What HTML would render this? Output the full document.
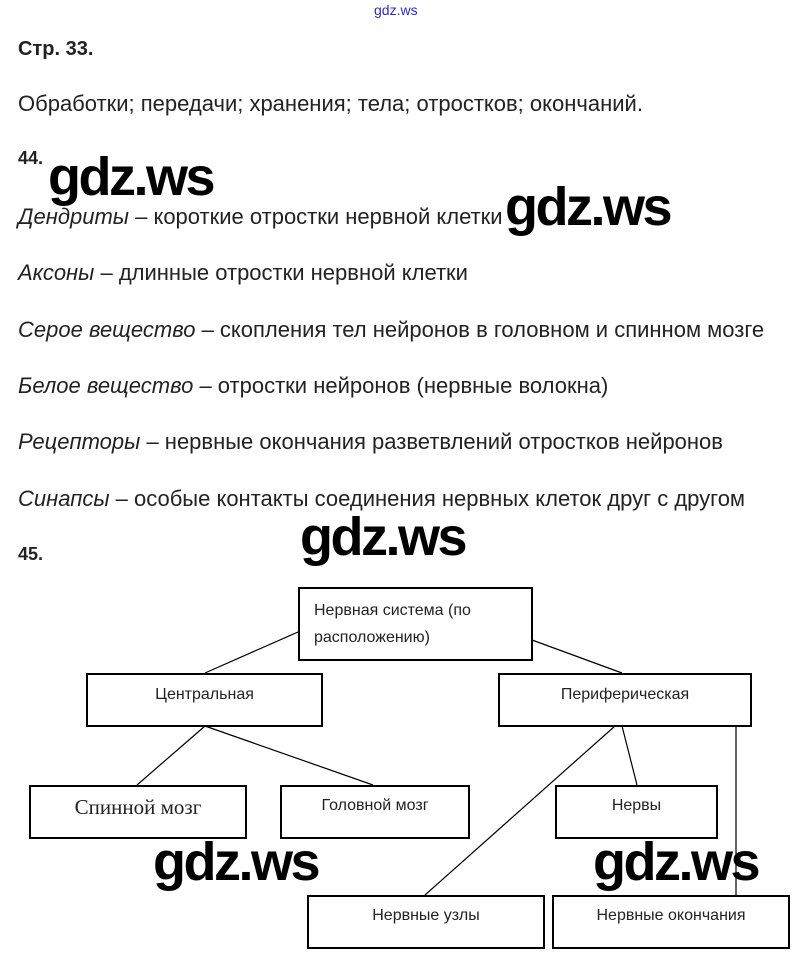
<!DOCTYPE html>
<html><head><meta charset="utf-8"><style>
body{margin:0;width:802px;height:967px;background:#fff;position:relative;overflow:hidden;font-family:"Liberation Sans",sans-serif;color:#222}
.t{position:absolute;left:18px;font-size:22px;white-space:nowrap;letter-spacing:0px}
.wm{position:absolute;font-size:54px;color:#000;font-family:"Liberation Sans",sans-serif;line-height:1;letter-spacing:-2.5px;font-weight:bold}
.b{position:absolute;border:2px solid #000;box-sizing:border-box;font-size:16px;text-align:center;color:#222}
</style></head><body>
<div style="position:absolute;left:374px;top:2px;font-size:14px;color:#2a2ad0">gdz.ws</div>
<div class="t" style="top:38px;font-weight:bold;font-size:20px">Стр. 33.</div>
<div class="t" style="top:91px">Обработки; передачи; хранения; тела; отростков; окончаний.</div>
<div class="t" style="top:148px;font-weight:bold;font-size:18px">44.</div>
<div class="t" style="top:204px"><i>Дендриты</i> – короткие отростки нервной клетки</div>
<div class="t" style="top:260px"><i>Аксоны</i> – длинные отростки нервной клетки</div>
<div class="t" style="top:317px"><i>Серое вещество</i> – скопления тел нейронов в головном и спинном мозге</div>
<div class="t" style="top:373px"><i>Белое вещество</i> – отростки нейронов (нервные волокна)</div>
<div class="t" style="top:429px"><i>Рецепторы</i> – нервные окончания разветвлений отростков нейронов</div>
<div class="t" style="top:486px"><i>Синапсы</i> – особые контакты соединения нервных клеток друг с другом</div>
<div class="t" style="top:544px;font-weight:bold;font-size:18px">45.</div>

<svg style="position:absolute;left:0;top:0" width="802" height="967">
<g stroke="#000" stroke-width="1.2">
<line x1="298" y1="632" x2="205" y2="673"/>
<line x1="532" y1="640" x2="622" y2="673"/>
<line x1="205" y1="726" x2="137" y2="785"/>
<line x1="205" y1="726" x2="373" y2="785"/>
<line x1="615" y1="726" x2="425" y2="895"/>
<line x1="622" y1="726" x2="637" y2="785"/>
<line x1="736" y1="726" x2="736" y2="895"/>
</g></svg>

<div class="b" style="left:298px;top:587px;width:235px;height:74px;text-align:left;padding:8px 0 0 14px;line-height:27px">Нервная система (по<br>расположению)</div>
<div class="b" style="left:86px;top:673px;width:237px;height:54px;padding-top:11px">Центральная</div>
<div class="b" style="left:498px;top:673px;width:254px;height:54px;padding-top:11px">Периферическая</div>
<div class="b" style="left:29px;top:785px;width:218px;height:54px;padding-top:8px;font-family:'Liberation Serif',serif;font-size:21px">Спинной мозг</div>
<div class="b" style="left:280px;top:785px;width:190px;height:54px;padding-top:10px">Головной мозг</div>
<div class="b" style="left:555px;top:785px;width:163px;height:54px;padding-top:10px">Нервы</div>
<div class="b" style="left:307px;top:895px;width:238px;height:54px;padding-top:10px">Нервные узлы</div>
<div class="b" style="left:552px;top:895px;width:238px;height:54px;padding-top:10px">Нервные окончания</div>

<div class="wm" style="left:48px;top:150px">gdz.ws</div>
<div class="wm" style="left:505px;top:180px">gdz.ws</div>
<div class="wm" style="left:300px;top:510px">gdz.ws</div>
<div class="wm" style="left:153px;top:835px">gdz.ws</div>
<div class="wm" style="left:593px;top:835px">gdz.ws</div>
</body></html>
